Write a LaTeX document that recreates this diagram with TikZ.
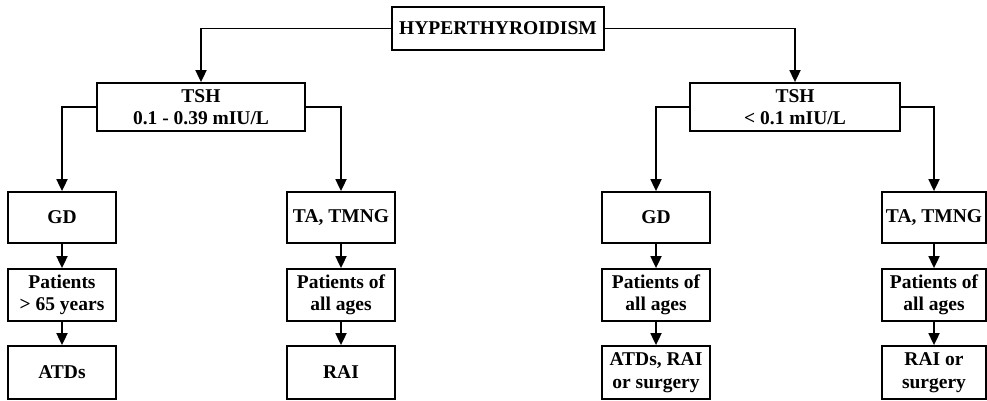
\documentclass[tikz,border=0pt]{standalone}
\usepackage{fontspec}
\setmainfont{Liberation Serif}
\usetikzlibrary{arrows.meta}

\begin{document}
\begin{tikzpicture}[x=1pt, y=1pt,
    caja/.style={draw, line width=1.8pt, align=center, inner sep=2pt,
        font=\bfseries\fontsize{19.5}{22.5}\selectfont},
    flecha/.style={line width=1.8pt, -{Triangle[width=11pt,length=12pt]}}]
    \useasboundingbox (0,0) rectangle (987,-400);
    % Caja principal
    \node[caja, minimum width=212pt, minimum height=43pt] (hiper) at (498,-28.5) {HYPERTHYROIDISM};
    % Nivel TSH
    \node[caja, minimum width=208pt, minimum height=48pt] (tshI) at (201,-107) {TSH\\0.1 - 0.39 mIU/L};
    \node[caja, minimum width=210pt, minimum height=48pt] (tshD) at (795,-107) {TSH\\< 0.1 mIU/L};
    % Diagnostico
    \node[caja, minimum width=108pt, minimum height=51pt] (gdI) at (62,-217.5) {GD};
    \node[caja, minimum width=108pt, minimum height=51pt] (tmI) at (341,-217.5) {TA, TMNG};
    \node[caja, minimum width=108pt, minimum height=51pt] (gdD) at (656,-217.5) {GD};
    \node[caja, minimum width=104pt, minimum height=51pt] (tmD) at (934,-217.5) {TA, TMNG};
    % Pacientes
    \node[caja, minimum width=108pt, minimum height=52pt] (pacI) at (62,-295) {Patients\\> 65 years};
    \node[caja, minimum width=108pt, minimum height=52pt] (pacII) at (341,-295) {Patients of\\all ages};
    \node[caja, minimum width=108pt, minimum height=52pt] (pacD) at (656,-295) {Patients of\\all ages};
    \node[caja, minimum width=104pt, minimum height=52pt] (pacDD) at (934,-295) {Patients of\\all ages};
    % Tratamiento
    \node[caja, minimum width=108pt, minimum height=53pt] (trI) at (62,-372.5) {ATDs};
    \node[caja, minimum width=108pt, minimum height=53pt] (trII) at (341,-372.5) {RAI};
    \node[caja, minimum width=108pt, minimum height=53pt] (trD) at (656,-372.5) {ATDs, RAI\\or surgery};
    \node[caja, minimum width=104pt, minimum height=53pt] (trDD) at (934,-372.5) {RAI or\\surgery};
    % Flechas
    \draw[flecha] (hiper.west) -| (tshI.north);
    \draw[flecha] (hiper.east) -| (tshD.north);
    \draw[flecha] (tshI.west) -| (gdI.north);
    \draw[flecha] (tshI.east) -| (tmI.north);
    \draw[flecha] (tshD.west) -| (gdD.north);
    \draw[flecha] (tshD.east) -| (tmD.north);
    \draw[flecha] (gdI) -- (pacI);
    \draw[flecha] (tmI) -- (pacII);
    \draw[flecha] (gdD) -- (pacD);
    \draw[flecha] (tmD) -- (pacDD);
    \draw[flecha] (pacI) -- (trI);
    \draw[flecha] (pacII) -- (trII);
    \draw[flecha] (pacD) -- (trD);
    \draw[flecha] (pacDD) -- (trDD);
\end{tikzpicture}
\end{document}
